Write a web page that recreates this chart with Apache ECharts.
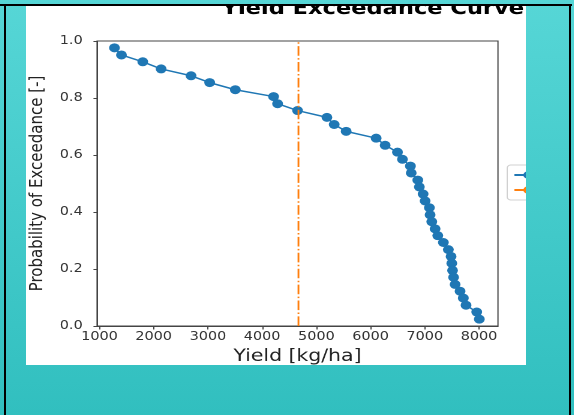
<!DOCTYPE html>
<html><head><meta charset="utf-8">
<script src="https://cdn.jsdelivr.net/npm/echarts@6/dist/echarts.min.js"></script>
<style>
html,body{margin:0;padding:0;width:574px;height:415px;overflow:hidden;}
body{background:linear-gradient(to bottom,#56d6d6,#31bfbf);position:relative;}
#panel{position:absolute;left:26px;top:5px;width:500px;height:360px;background:#fff;overflow:hidden;}
#chart{position:absolute;left:0;top:0;width:417px;height:360px;transform:scaleX(1.2);transform-origin:0 0;}
.bl{position:absolute;background:#000;}
</style></head><body>
<div id="panel"><div id="chart"></div></div>
<div class="bl" style="left:0;top:4px;width:572px;height:2px"></div>
<div class="bl" style="left:4px;top:4px;width:2px;height:411px"></div>
<div class="bl" style="left:569px;top:4px;width:2px;height:411px"></div>
<script>
const TITLE = 'Yield Exceedance Curve';
const X_NAME = 'Yield [kg/ha]';
const Y_NAME = 'Probability of Exceedance [-]';
const YIELDS = [1276,1405,1798,2137,2689,3032,3505,4211,4285,4653,
                5195,5329,5550,6103,6269,6496,6588,6735,6750,6871,
                6900,6969,7006,7085,7098,7129,7190,7240,7343,7435,
                7485,7498,7512,7531,7559,7651,7711,7761,7958,8006];
const PROBS = [0.976,0.951,0.927,0.902,0.878,0.854,0.829,0.805,0.780,0.756,
               0.732,0.707,0.683,0.659,0.634,0.610,0.585,0.561,0.537,0.512,
               0.488,0.463,0.439,0.415,0.390,0.366,0.341,0.317,0.293,0.268,
               0.244,0.220,0.195,0.171,0.146,0.122,0.098,0.073,0.049,0.024];
const REF_YIELD = 4670;
const X_TICKS = [1000,2000,3000,4000,5000,6000,7000,8000];
const SERIES_NAMES = ['Exceedance', 'Reference'];

const chart = echarts.init(document.getElementById('chart'), null, {renderer:'canvas', devicePixelRatio:2});
const axisColor = '#444';
chart.setOption({
  animation:false,
  textStyle:{fontFamily:'DejaVu Sans'},
  graphic:[{type:'text', x:289, y:4, z:10,
    style:{text:TITLE, font:'bold 18.8px "DejaVu Sans"', fill:'#000', align:'center', verticalAlign:'middle'}}],
  grid:{left:59.2, right:23.7, top:36, bottom:39, show:true, borderColor:axisColor, borderWidth:1,
    containLabel:false, outerBoundsMode:'none'},
  legend:{orient:'vertical', left:401, top:160, padding:[4,5,4,5], itemGap:3, itemWidth:22, itemHeight:9,
    borderColor:'#d0d0d0', borderWidth:1, borderRadius:3, backgroundColor:'rgba(255,255,255,0.8)',
    textStyle:{fontSize:12, color:'#222'}, data:SERIES_NAMES},
  xAxis:{type:'value', min:955, max:8350, name:X_NAME, nameLocation:'middle', nameGap:21,
    nameTextStyle:{fontSize:17, color:'#222'},
    axisLine:{show:true, lineStyle:{color:axisColor}},
    axisTick:{show:true, length:3.5, customValues:X_TICKS, lineStyle:{color:axisColor}},
    axisLabel:{customValues:X_TICKS, fontSize:12, color:'#333', margin:5, formatter:v=>String(v)},
    splitLine:{show:false}},
  yAxis:{type:'value', min:0, max:1, interval:0.2, name:Y_NAME, nameLocation:'middle', nameGap:39,
    nameTextStyle:{fontSize:15, color:'#222'},
    axisLine:{show:true, lineStyle:{color:axisColor}},
    axisTick:{show:true, length:3, lineStyle:{color:axisColor}},
    axisLabel:{fontSize:12, color:'#333', margin:12, formatter:v=>v.toFixed(1)},
    splitLine:{show:false}},
  series:[
    {name:SERIES_NAMES[0], type:'line', data:YIELDS.map((y,i)=>[y,PROBS[i]]), symbol:'circle', symbolSize:9,
     itemStyle:{color:'#1f77b4'}, lineStyle:{color:'#1f77b4', width:1.5}, z:2},
    {name:SERIES_NAMES[1], type:'line', data:[[REF_YIELD,0],[REF_YIELD,1]], symbol:'none',
     itemStyle:{color:'#ff7f0e'}, lineStyle:{color:'#ff7f0e', width:1.5, type:[9.6,2.4,1.5,2.4]}, z:3}
  ]
});
</script>
</body></html>
